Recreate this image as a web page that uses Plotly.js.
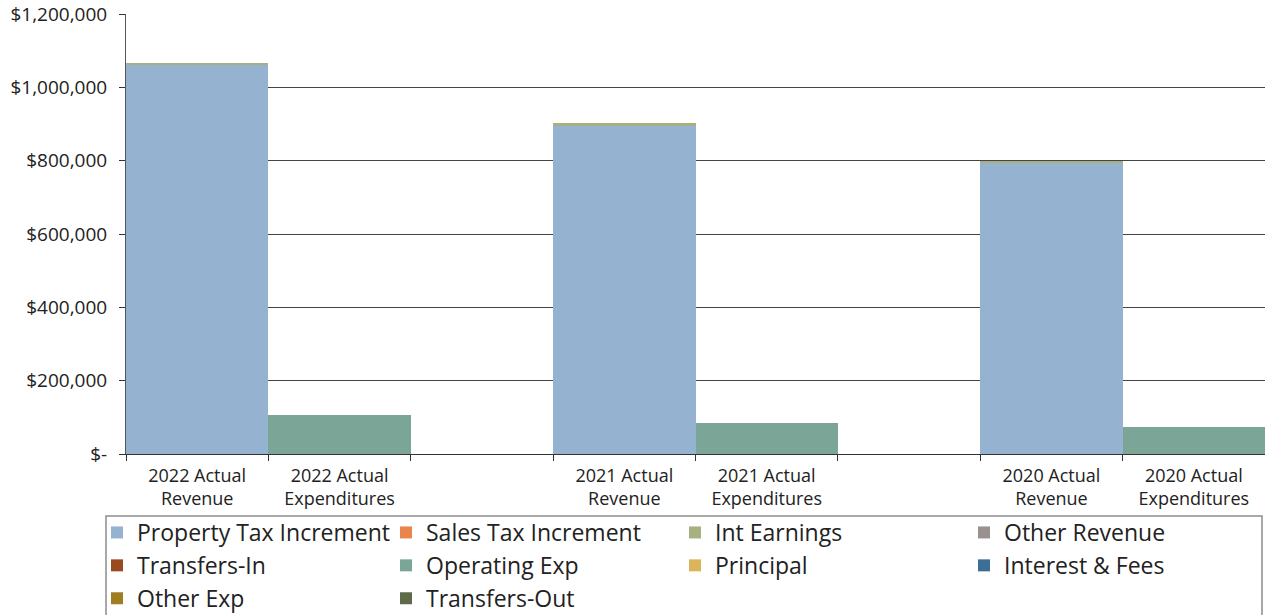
<!DOCTYPE html>
<html>
<head>
<meta charset="utf-8">
<script src="https://cdn.plot.ly/plotly-3.0.1.min.js"></script>
<style>
html,body{margin:0;padding:0;background:#fff;overflow:hidden;}
#wrap{width:1265px;height:615px;overflow:hidden;}
#chart{width:1265px;height:645px;}
</style>
</head>
<body>
<div id="wrap"><div id="chart"></div></div>
<script>
const categories = ["2022 Actual<br>Revenue", "2022 Actual<br>Expenditures", " ",
                    "2021 Actual<br>Revenue", "2021 Actual<br>Expenditures", "  ",
                    "2020 Actual<br>Revenue", "2020 Actual<br>Expenditures"];

const propertyTaxIncrement = [1060000, null, null, 895000, null, null, 794000, null];
const salesTaxIncrement    = [0, null, null, 0, null, null, 0, null];
const intEarnings          = [6000, null, null, 7000, null, null, 4000, null];
const otherRevenue         = [0, null, null, 0, null, null, 1000, null];
const transfersIn          = [0, null, null, 0, null, null, 0, null];
const operatingExp         = [null, 106000, null, null, 85000, null, null, 74000];
const principal            = [null, 0, null, null, 0, null, null, 0];
const interestFees         = [null, 0, null, null, 0, null, null, 0];
const otherExp             = [null, 0, null, null, 0, null, null, 0];
const transfersOut         = [null, 0, null, null, 0, null, null, 0];

const yTickVals = [0, 200000, 400000, 600000, 800000, 1000000, 1200000];
const yTickText = ["$-", "$200,000", "$400,000", "$600,000", "$800,000", "$1,000,000", "$1,200,000"];

const series = [
  {name: "Property Tax Increment", y: propertyTaxIncrement, color: "#95b3d1"},
  {name: "Sales Tax Increment",    y: salesTaxIncrement,    color: "#e8844c"},
  {name: "Int Earnings",           y: intEarnings,          color: "#a7b17f"},
  {name: "Other Revenue",          y: otherRevenue,         color: "#9b9090"},
  {name: "Transfers-In",           y: transfersIn,          color: "#9b4a1f"},
  {name: "Operating Exp",          y: operatingExp,         color: "#7ba697"},
  {name: "Principal",              y: principal,            color: "#dcb55a"},
  {name: "Interest & Fees",        y: interestFees,         color: "#3b6f97"},
  {name: "Other Exp",              y: otherExp,             color: "#a07e20"},
  {name: "Transfers-Out",          y: transfersOut,         color: "#5f6b48"}
];

const FONT = "Open Sans, sans-serif";
const W = 1265, H = 645;
const ML = 126, MR = 0, MT = 14, MB = H - 454;
const PW = W - ML - MR, PH = H - MT - MB;
const px2x = p => (p - ML) / PW;
const px2y = p => (H - MB - p) / PH;

const traces = series.map(s => ({
  type: "bar",
  name: s.name,
  x: categories,
  y: s.y,
  marker: {color: s.color, line: {width: 0}},
  hoverinfo: "x+y+name"
}));

const layout = {
  width: W,
  height: H,
  margin: {l: ML, r: MR, t: MT, b: MB},
  paper_bgcolor: "#ffffff",
  plot_bgcolor: "#ffffff",
  barmode: "stack",
  bargap: 0,
  font: {family: FONT, color: "#222222"},
  xaxis: {
    type: "category",
    categoryorder: "array",
    categoryarray: categories,
    tickson: "boundaries",
    ticks: "outside",
    ticklen: 6,
    tickcolor: "#333333",
    ticklabelstandoff: 5,
    showline: true,
    linecolor: "#333333",
    linewidth: 1,
    showgrid: false,
    tickfont: {family: FONT, size: 18, color: "#222222"},
    range: [-0.5, 7.5],
    automargin: false
  },
  yaxis: {
    range: [0, 1200000],
    tickvals: yTickVals,
    ticktext: yTickText,
    ticks: "outside",
    ticklen: 6,
    tickcolor: "#333333",
    ticklabelstandoff: 8,
    showline: true,
    linecolor: "#555555",
    linewidth: 1,
    showgrid: true,
    gridcolor: "#444444",
    gridwidth: 1,
    zeroline: false,
    tickfont: {family: FONT, size: 19, color: "#222222"},
    automargin: false
  },
  showlegend: true,
  legend: {
    orientation: "h",
    x: px2x(97),
    xanchor: "left",
    y: px2y(511),
    yanchor: "top",
    borderwidth: 0,
    bgcolor: "rgba(0,0,0,0)",
    entrywidth: 244,
    entrywidthmode: "pixels",
    traceorder: "normal",
    font: {family: FONT, size: 23, color: "#222222"}
  },
  shapes: [{
    type: "rect",
    xref: "paper", yref: "paper",
    x0: px2x(106), x1: px2x(1262),
    y0: px2y(516), y1: px2y(660),
    line: {color: "#8c8c8c", width: 1.5},
    fillcolor: "rgba(0,0,0,0)",
    layer: "below"
  }]
};

Plotly.newPlot("chart", traces, layout, {displayModeBar: false, staticPlot: true});
</script>
</body>
</html>
